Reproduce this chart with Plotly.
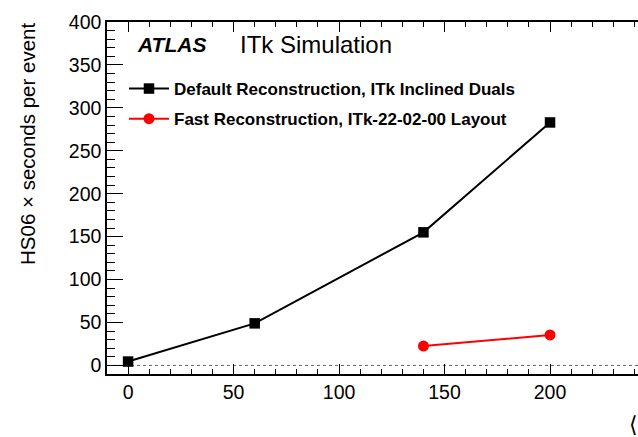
import plotly.graph_objects as go

# Data
mu_default = [0, 60, 140, 200]
time_default = [4.5, 49, 155, 283]
mu_fast = [140, 200]
time_fast = [22.5, 35.5]

label_default = "Default Reconstruction, ITk Inclined Duals"
label_fast = "Fast Reconstruction, ITk-22-02-00 Layout"
y_title = "HS06 × seconds per event"
x_title = "⟨μ⟩"

W, H = 638, 437
L, T, R = 107, 22, 0
B = H - 374
PW, PH = W - L - R, H - T - B


def px(xw):
    return (xw - L) / PW


def py(yw):
    return 1 - (yw - T) / PH


FONT = "Liberation Sans, Arial, Helvetica, sans-serif"

fig = go.Figure()
fig.add_trace(go.Scatter(
    x=mu_default, y=time_default, mode="lines+markers", name=label_default,
    line=dict(color="black", width=2),
    marker=dict(symbol="square", size=10.5, color="black"),
    legendgroup="a",
))
fig.add_trace(go.Scatter(
    x=mu_fast, y=time_fast, mode="lines+markers", name=label_fast,
    line=dict(color="#ff0000", width=2),
    marker=dict(symbol="circle", size=11, color="#ff0000"),
    legendgroup="b",
))

fig.add_shape(type="line", xref="paper", yref="y", x0=0, x1=1, y0=0, y1=0,
              line=dict(color="#666666", width=1, dash="dot"), layer="below")

fig.add_annotation(x=px(135), y=py(45), xref="paper", yref="paper",
                   xanchor="left", yanchor="middle",
                   text="<b><i>ATLAS</i></b>", showarrow=False,
                   font=dict(family=FONT, size=21, color="black"))
fig.add_annotation(x=px(238), y=py(45), xref="paper", yref="paper",
                   xanchor="left", yanchor="middle",
                   text="ITk Simulation", showarrow=False,
                   font=dict(family=FONT, size=24, color="black"))
fig.add_annotation(x=px(627), y=py(425), xref="paper", yref="paper",
                   xanchor="left", yanchor="middle",
                   text=x_title, showarrow=False,
                   font=dict(family=FONT, size=22, color="black"))
fig.add_annotation(x=px(28), y=py(21), xref="paper", yref="paper",
                   xanchor="center", yanchor="top", textangle=-90,
                   text=y_title, showarrow=False,
                   font=dict(family=FONT, size=20.5, color="black"))

fig.update_layout(
    width=W, height=H,
    margin=dict(l=L, r=R, t=T, b=B, pad=0),
    paper_bgcolor="white", plot_bgcolor="white",
    font=dict(family=FONT, color="black"),
    showlegend=True,
    legend=dict(x=px(124), y=py(71),
                xanchor="left", yanchor="top", bgcolor="rgba(0,0,0,0)",
                font=dict(family=FONT, size=17, color="black", weight="bold"),
                tracegroupgap=5, itemwidth=40),
    xaxis=dict(range=[-10, 241.7], showgrid=False, zeroline=False,
               showline=True, linecolor="black", linewidth=1.5, mirror="allticks",
               ticks="inside", ticklen=10, tickcolor="black", tickwidth=1.2,
               tick0=0, dtick=50,
               minor=dict(ticks="inside", ticklen=5, dtick=10, tick0=0,
                          tickcolor="black", tickwidth=1.2),
               tickfont=dict(family=FONT, size=19.5, color="black")),
    yaxis=dict(range=[-10, 400], showgrid=False, zeroline=False,
               showline=True, linecolor="black", linewidth=1.5, mirror=False,
               ticks="inside", ticklen=16, tickcolor="black", tickwidth=1.2,
               tick0=0, dtick=50,
               minor=dict(ticks="inside", ticklen=8, dtick=10, tick0=0,
                          tickcolor="black", tickwidth=1.2),
               tickfont=dict(family=FONT, size=19.5, color="black")),
)

fig.write_html("out.html", config={"displayModeBar": False},
               post_script="document.body.style.margin='0';document.body.style.overflow='hidden';")
